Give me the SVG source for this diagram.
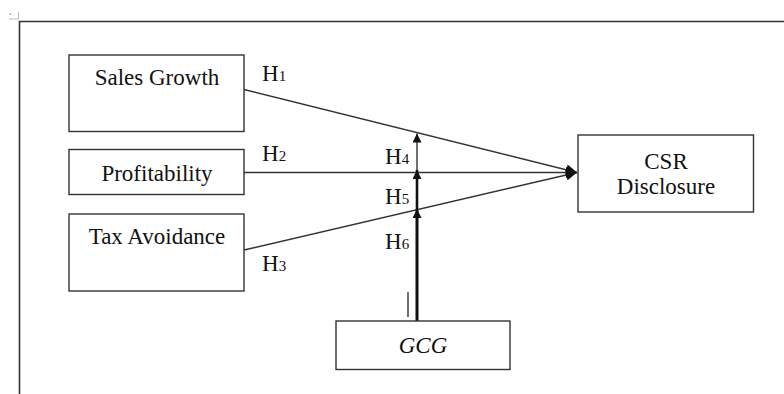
<svg xmlns="http://www.w3.org/2000/svg" width="784" height="394" viewBox="0 0 784 394">
<style>
.box{fill:#fff;stroke:#333;stroke-width:1.4}
.t{font-family:'Liberation Serif','DejaVu Serif',serif;font-size:23px;fill:#111}
.sub{font-size:15px}
.ln{stroke:#333;stroke-width:1.4;fill:none}
.th{stroke:#111;stroke-width:2.6;fill:none}
</style>
<defs>
<marker id="ah" viewBox="0 0 10 10" refX="10" refY="5" markerWidth="12" markerHeight="11" markerUnits="userSpaceOnUse" orient="auto">
<path d="M0,0 L10,5 L0,10 Z" fill="#111"/>
</marker>
<marker id="av" viewBox="0 0 10 10" refX="10" refY="5" markerWidth="11" markerHeight="9" markerUnits="userSpaceOnUse" orient="auto">
<path d="M0,0 L10,5 L0,10 Z" fill="#111"/>
</marker>
</defs>
<g id="frame">
<path d="M19.5,394 V21.5 H784" stroke="#333" stroke-width="1.6" fill="none"/>
<path d="M9,19 H18.5 V12" stroke="#bbb" stroke-width="1" fill="none"/>
<rect x="9.5" y="13.5" width="1.5" height="1.5" fill="#999"/>
</g>
<g id="connectors">
<line class="ln" x1="244" y1="89.5" x2="577" y2="172.5" marker-end="url(#ah)"/>
<line class="ln" x1="244" y1="172.5" x2="577" y2="172.5" marker-end="url(#ah)"/>
<line class="ln" x1="244" y1="250" x2="577" y2="172.5" marker-end="url(#ah)"/>
<line class="ln" x1="417" y1="321" x2="417" y2="133.5" marker-end="url(#av)"/>
<line class="th" x1="417" y1="321" x2="417" y2="170" marker-end="url(#av)"/>
<line class="th" x1="417" y1="321" x2="417" y2="209" marker-end="url(#av)"/>
<line class="ln" x1="408" y1="292" x2="408" y2="317"/>
</g>
<g id="sales-growth">
<rect class="box" x="69" y="55" width="175" height="76.5"/>
<text class="t" x="157" y="84.5" text-anchor="middle" font-family="Liberation Serif">Sales Growth</text>
</g>
<g id="profitability">
<rect class="box" x="69" y="149.5" width="175" height="45"/>
<text class="t" x="157" y="181" text-anchor="middle" font-family="Liberation Serif">Profitability</text>
</g>
<g id="tax-avoidance">
<rect class="box" x="69" y="214" width="175" height="77"/>
<text class="t" x="157" y="243.5" text-anchor="middle" font-family="Liberation Serif">Tax Avoidance</text>
</g>
<g id="csr-disclosure">
<rect class="box" x="578" y="135" width="175.5" height="77"/>
<text class="t" x="666" y="168.5" text-anchor="middle" font-family="Liberation Serif">CSR</text>
<text class="t" x="666" y="193.5" text-anchor="middle" font-family="Liberation Serif">Disclosure</text>
</g>
<g id="gcg">
<rect class="box" x="336" y="321" width="174" height="48.5"/>
<text class="t" x="423" y="353" text-anchor="middle" font-style="italic" font-family="Liberation Serif">GCG</text>
</g>
<g id="labels" font-family="Liberation Serif">
<text class="t" x="262" y="80.5">H<tspan class="sub">1</tspan></text>
<text class="t" x="262" y="160.5">H<tspan class="sub">2</tspan></text>
<text class="t" x="262" y="271">H<tspan class="sub">3</tspan></text>
<text class="t" x="385" y="163.5">H<tspan class="sub">4</tspan></text>
<text class="t" x="385" y="203.5">H<tspan class="sub">5</tspan></text>
<text class="t" x="385" y="248.5">H<tspan class="sub">6</tspan></text>
</g>
</svg>
